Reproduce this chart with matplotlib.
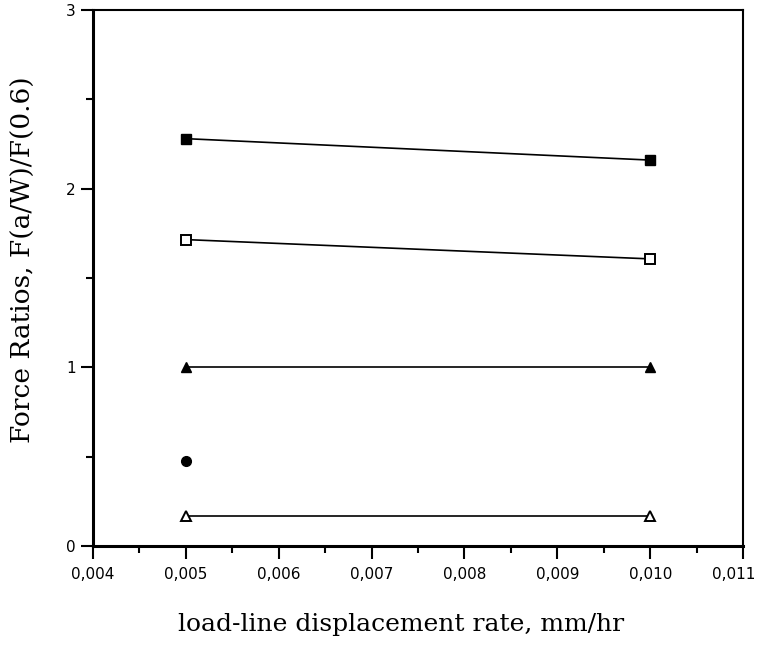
import numpy as np
import matplotlib.pyplot as plt
import matplotlib.transforms as mtransforms
from matplotlib.ticker import MultipleLocator, FuncFormatter

rates = [0.005, 0.010]
filled_sq = [2.28, 2.16]
open_sq = [1.715, 1.607]
filled_tri = [1.0, 1.0]
open_tri = [0.17, 0.17]
circle_x = [0.005]
circle_y = [0.475]

fig = plt.figure(figsize=(7.58, 6.46), dpi=100)
ax = fig.add_axes([0.1227, 0.1548, 0.8576, 0.8297])

ax.plot(rates, filled_sq, "k-", lw=1.2, marker="s", ms=7, mfc="k", mec="k")
ax.plot(rates, open_sq, "k-", lw=1.2, marker="s", ms=7, mfc="w", mec="k", mew=1.4)
ax.plot(rates, filled_tri, "k-", lw=1.2, marker="^", ms=7.5, mfc="k", mec="k")
ax.plot(rates, open_tri, "k-", lw=1.2, marker="^", ms=6.5, mfc="w", mec="k", mew=1.4)
ax.plot(circle_x, circle_y, "ko", ms=7)

ax.set_xlim(0.004, 0.011)
ax.set_ylim(0, 3)
ax.set_xticks(np.arange(0.004, 0.0111, 0.001))
ax.xaxis.set_minor_locator(MultipleLocator(0.0005))
ax.yaxis.set_major_locator(MultipleLocator(1))
ax.yaxis.set_minor_locator(MultipleLocator(0.5))
ax.xaxis.set_major_formatter(FuncFormatter(lambda v, p: f"{v:.3f}".replace(".", ",")))
ax.yaxis.set_major_formatter(FuncFormatter(lambda v, p: f"{v:.0f}"))

ax.tick_params(which="both", direction="out", width=1.5, labelsize=11)
ax.tick_params(which="major", length=9)
ax.tick_params(which="minor", length=5)
ax.tick_params(axis="x", pad=6)

for side in ["left", "bottom"]:
    ax.spines[side].set_linewidth(2.2)
for side in ["top", "right"]:
    ax.spines[side].set_linewidth(1.5)

ax.set_xlabel("load-line displacement rate, mm/hr", family="DejaVu Serif", fontsize=18)
ax.set_ylabel("Force Ratios, F(a/W)/F(0.6)", family="DejaVu Serif", fontsize=19)
ax.xaxis.set_label_coords(0.474, -0.125)
ax.yaxis.set_label_coords(-0.088, 0.535)

# last x tick label sits at the figure edge, nudge it in a little
fig.canvas.draw()
for lab in ax.get_xticklabels():
    if lab.get_text() == "0,011":
        lab.set_transform(lab.get_transform() +
                          mtransforms.ScaledTranslation(-9 / 100, 0, fig.dpi_scale_trans))

fig.savefig("out.png", dpi=100)
